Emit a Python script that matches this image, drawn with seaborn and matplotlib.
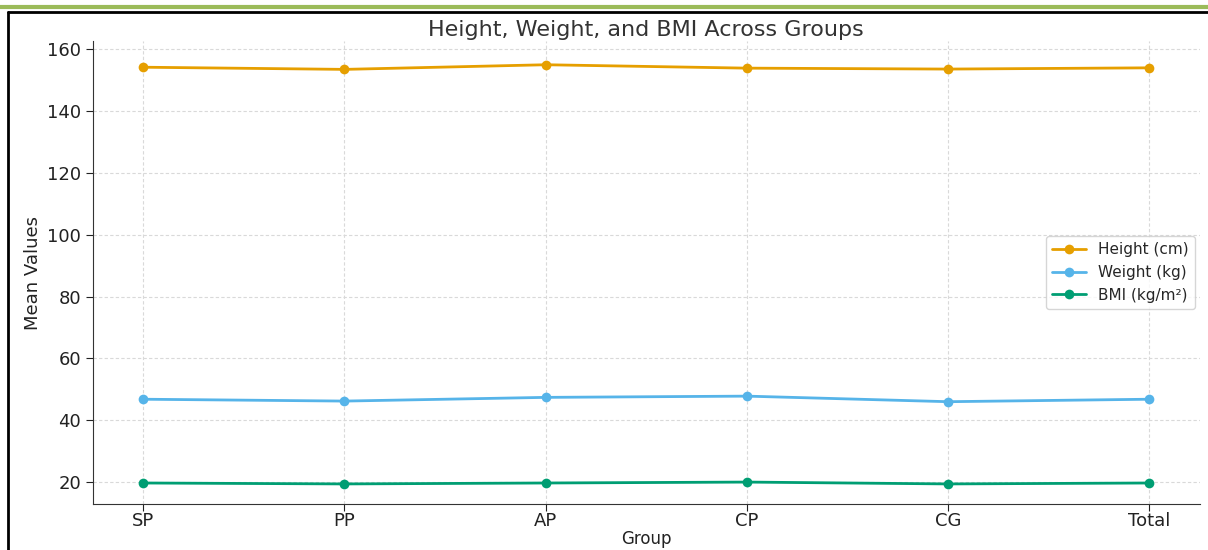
import matplotlib
matplotlib.use("Agg")
import matplotlib.pyplot as plt
import pandas as pd
import seaborn as sns
from matplotlib.lines import Line2D

# -----------------------------
# Data
# -----------------------------
groups = ["SP", "PP", "AP", "CP", "CG", "Total"]
height_cm = [154.2, 153.5, 155.0, 153.9, 153.6, 154.0]
weight_kg = [46.8, 46.2, 47.4, 47.8, 46.0, 46.8]
bmi = [19.7, 19.4, 19.7, 20.0, 19.4, 19.7]

series_names = ["Height (cm)", "Weight (kg)", "BMI (kg/m²)"]
colors = ["#E69F00", "#56B4E9", "#009E73"]

df = pd.DataFrame({
    "Group": groups * 3,
    "Value": height_cm + weight_kg + bmi,
    "Measure": [series_names[0]] * 6 + [series_names[1]] * 6 + [series_names[2]] * 6,
})
df["pos"] = df["Group"].map({g: i for i, g in enumerate(groups)})

# -----------------------------
# Plot
# -----------------------------
sns.set_style("ticks")
plt.rcParams["font.family"] = ["DejaVu Sans"]

fig = plt.figure(figsize=(12.08, 5.5), dpi=100)
ax = fig.add_axes([0.077, 0.0836, 0.916, 0.8414])

sns.lineplot(data=df, x="pos", y="Value", hue="Measure", palette=colors,
             marker="o", markersize=7, markeredgewidth=0, linewidth=2,
             ax=ax)

ax.set_xticks(range(len(groups)))
ax.set_xticklabels(groups)
ax.set_xlim(-0.25, 5.25)
ax.set_ylim(12.9, 162.6)
ax.set_yticks([20, 40, 60, 80, 100, 120, 140, 160])

ax.grid(True, linestyle=(0, (3, 2)), color="#d9d9d9", linewidth=0.8)
ax.set_axisbelow(True)
sns.despine(ax=ax)
for s in ["left", "bottom"]:
    ax.spines[s].set_color("#333333")
ax.tick_params(axis="both", labelsize=13, colors="#222222", length=5)
ax.tick_params(axis="x", pad=1)

ax.set_title("Height, Weight, and BMI Across Groups", fontsize=16, color="#333333", pad=4)
ax.set_xlabel("Group", fontsize=12, color="#222222", labelpad=0)
ax.set_ylabel("Mean Values", fontsize=13, color="#222222",
              family=["Liberation Sans Narrow", "DejaVu Sans"])

leg = ax.legend(loc="center right", prop={"family": "DejaVu Sans", "size": 11},
                frameon=True, title=None, handlelength=2.2, borderaxespad=0.3)
leg.get_frame().set_edgecolor("#cccccc")

# page border lines around the picture
fig.add_artist(Line2D([0, 1], [0.988, 0.988], color="#9BBB59", linewidth=3,
                      transform=fig.transFigure))
fig.add_artist(Line2D([0.007, 1], [0.979, 0.979], color="black", linewidth=2,
                      transform=fig.transFigure))
fig.add_artist(Line2D([0.007, 0.007], [0, 0.979], color="black", linewidth=2,
                      transform=fig.transFigure))

fig.savefig("out.png", dpi=100)
plt.close()
